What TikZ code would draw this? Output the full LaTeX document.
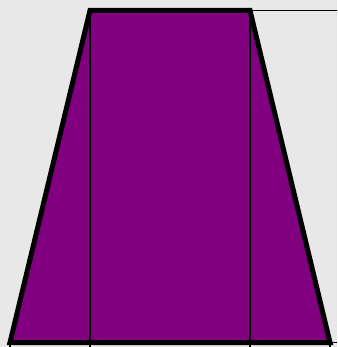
\documentclass[tikz,border=0pt]{standalone}
\usepackage{tikz}
\definecolor{bggray}{RGB}{232,232,232}
\definecolor{trappurple}{RGB}{128,0,128}
\usetikzlibrary{calc}

\begin{document}
\begin{tikzpicture}[x=1pt, y=-1pt,
    outline/.style={draw=black, line width=5pt, line join=miter},
    guide/.style={draw=black, line width=1.4pt}]
    % background
    \fill[bggray] (0,0) rectangle (337,347);
    \useasboundingbox (0,0) rectangle (337,347);

    % corners of the trapezoid
    \coordinate (tl) at (90,10.5);
    \coordinate (tr) at (250,10.5);
    \coordinate (bl) at (10,342.5);
    \coordinate (br) at (330,342.5);

    % filled trapezoid
    \fill[trappurple] (tl) -- (tr) -- (br) -- (bl) -- cycle;

    % thin guide lines
    \draw[guide] (tl) -- (tl |- 0,347);
    \draw[guide] (tr) -- (tr |- 0,347);
    \draw[guide] (bl) -- (bl |- 0,347);
    \draw[guide] (br) -- (br |- 0,347);
    \draw[guide] (tr) -- (337,10.5);
    \draw[guide] (br) -- (337,342.5);

    % thick outline
    \draw[outline] (tl) -- (tr) -- (br) -- (bl) -- cycle;
\end{tikzpicture}
\end{document}
